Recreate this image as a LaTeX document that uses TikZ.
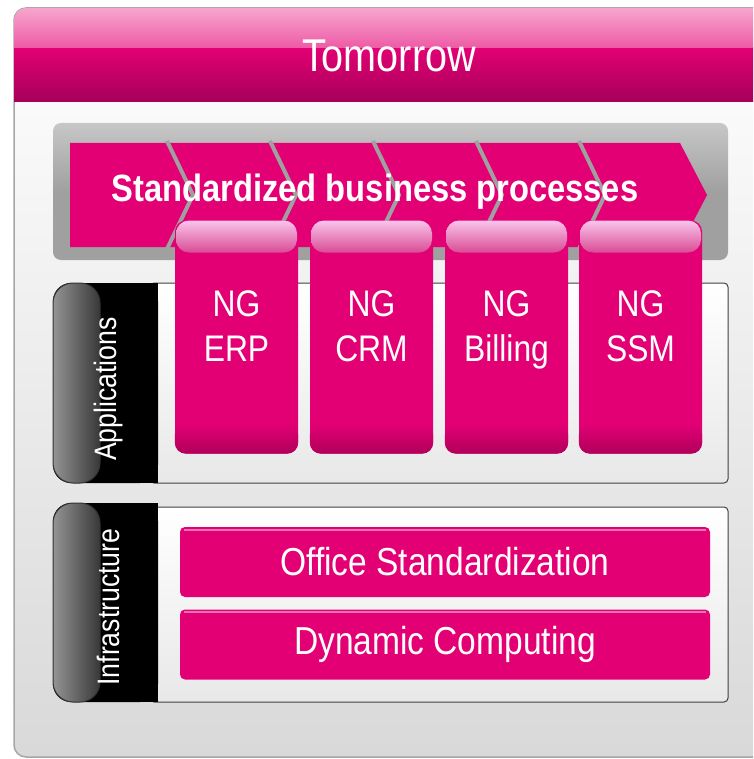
\documentclass[tikz,border=0pt]{standalone}
\usepackage{fontspec}
\newfontfamily\telefont[FakeStretch=0.86]{Liberation Sans}
\definecolor{tmag}{HTML}{E20074}
\definecolor{tmagdark}{HTML}{A6005A}
\definecolor{tmaglight}{HTML}{F6A6CE}
\definecolor{tmagmid}{HTML}{EE5AA6}
\definecolor{capltop}{HTML}{FAC4EC}
\definecolor{caplbot}{HTML}{D94C94}
\definecolor{bandgray}{HTML}{A0A0A0}

\tikzset{
  groupbox/.style={draw=black!75,line width=1pt,rounded corners=4pt,top color=white,bottom color=black!9},
  tabblack/.style={fill=black,rounded corners=18pt},
  tabpill/.style={draw=black!80,line width=1pt,rounded corners=20pt,left color=black!42,right color=black!78},
  tabtext/.style={rotate=90,font=\telefont\fontsize{31}{34}\selectfont,text=white},
  ngbox/.style={rectangle,rounded corners=11pt,minimum width=123pt,minimum height=233pt,fill=tmag},
  ngbottom/.style={rounded corners=11pt,top color=tmag,bottom color=tmag!78!black},
  ngcap/.style={rectangle,rounded corners=13pt,minimum width=121pt,minimum height=32pt,
    top color=capltop,bottom color=caplbot},
  ngtext/.style={anchor=north,align=center,font=\telefont\fontsize{37}{45}\selectfont,text=white},
  bar/.style={rectangle,rounded corners=5pt,minimum width=530pt,minimum height=70pt,
    fill=tmag,font=\telefont\fontsize{39}{42}\selectfont,text=white},
  gapline/.style={draw=bandgray,line width=4pt}
}

\begin{document}
\begin{tikzpicture}[x=1pt,y=-1pt,every node/.style={inner sep=0pt}]
  \useasboundingbox (0,0) rectangle (753,759);
  \clip (0,0) rectangle (753,759);

  % panel and header
  \shade[top color=white,bottom color=black!15,draw=black!35,line width=1.5pt,rounded corners=12pt]
    (14,8) rectangle (790,757);
  \begin{scope}
    \clip[rounded corners=12pt] (14,8) rectangle (790,757);
    \shade[top color=tmag,bottom color=tmagdark] (14,48) rectangle (790,102);
    \shade[top color=tmaglight,bottom color=tmagmid] (14,8) rectangle (790,48);
  \end{scope}
  \node[font=\telefont\fontsize{46}{50}\selectfont,text=white] (title) at (389,56) {Tomorrow};

  % process band
  \shade[top color=black!22,bottom color=bandgray,middle color=bandgray,rounded corners=8pt]
    (53,123) rectangle (728,260);
  \fill[tmag] (70,143) -- (680,143) -- (707,195) -- (680,247) -- (70,247) -- cycle;
  \draw[gapline] (167,141) -- (193,195) -- (167,249);
  \draw[gapline] (270,141) -- (296,195) -- (270,249);
  \draw[gapline] (373,141) -- (399,195) -- (373,249);
  \draw[gapline] (476,141) -- (502,195) -- (476,249);
  \draw[gapline] (579,141) -- (605,195) -- (579,249);
  \node[font=\telefont\bfseries\fontsize{38}{40}\selectfont,text=white] (proc) at (375,192)
    {Standardized business processes};

  % applications
  \path[groupbox] (150,283) rectangle (728,483);
  \path[tabblack] (53,283) -- (158,283) -- (158,483) -- (53,483) -- cycle;
  \fill (100,283) rectangle (158,483);
  \path[tabpill] (53,283) rectangle (100,483);
  \node[tabtext] (apps) at (108,389) {Applications};

  \node[ngbox] (erp) at (236.5,337) {};
  \node[ngbox] (crm) at (371.5,337) {};
  \node[ngbox] (bill) at (506.5,337) {};
  \node[ngbox] (ssm) at (640.5,337) {};
  \shade[ngbottom] ([yshift=30pt]erp.south west) rectangle (erp.south east);
  \shade[ngbottom] ([yshift=30pt]crm.south west) rectangle (crm.south east);
  \shade[ngbottom] ([yshift=30pt]bill.south west) rectangle (bill.south east);
  \shade[ngbottom] ([yshift=30pt]ssm.south west) rectangle (ssm.south east);
  \node[ngcap,anchor=north] (erpcap) at (erp.north) {};
  \node[ngcap,anchor=north] (crmcap) at (crm.north) {};
  \node[ngcap,anchor=north] (billcap) at (bill.north) {};
  \node[ngcap,anchor=north] (ssmcap) at (ssm.north) {};
  \node[ngtext] (erpt) at (236.5,290) {NG\\ERP};
  \node[ngtext] (crmt) at (371.5,290) {NG\\CRM};
  \node[ngtext] (billt) at (506.5,290) {NG\\Billing};
  \node[ngtext] (ssmt) at (640.5,290) {NG\\SSM};

  % infrastructure
  \path[groupbox] (150,507) rectangle (728,702);
  \path[tabblack] (53,503) -- (158,503) -- (158,702) -- (53,702) -- cycle;
  \fill (100,503) rectangle (158,702);
  \path[tabpill] (53,503) rectangle (100,702);
  \node[tabtext] (infra) at (108,607) {Infrastructure};

  \node[bar] (office) at (445,562) {Office Standardization};
  \node[bar] (dyn) at (445,644.5) {Dynamic Computing};
  \draw[white,opacity=.45,line width=2pt] ([xshift=4pt,yshift=-3pt]office.north west) -- ([xshift=-4pt,yshift=-3pt]office.north east);
  \draw[white,opacity=.45,line width=2pt] ([xshift=4pt,yshift=-3pt]dyn.north west) -- ([xshift=-4pt,yshift=-3pt]dyn.north east);
\end{tikzpicture}
\end{document}
